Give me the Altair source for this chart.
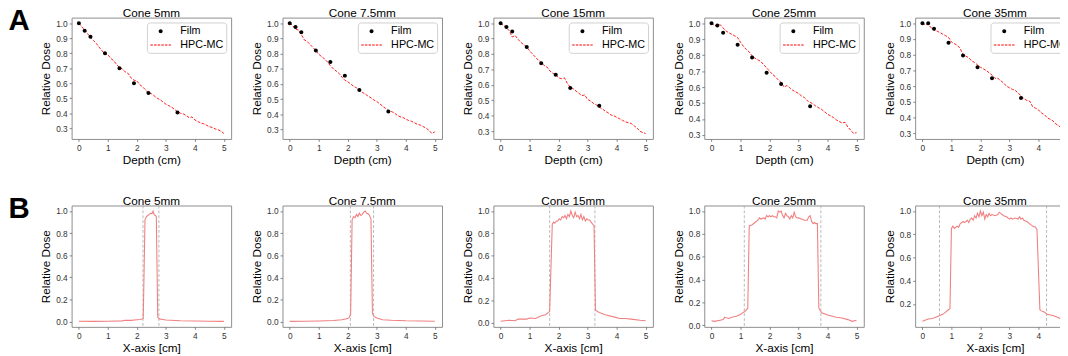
import altair as alt
import pandas as pd

FONT = "Liberation Sans"

cones = ["Cone 5mm", "Cone 7.5mm", "Cone 15mm", "Cone 25mm", "Cone 35mm"]
series = ["Film", "HPC-MC"]

# ---- Row A: depth dose ----
depth = [0.0, 0.1, 0.2, 0.3, 0.4, 0.5, 0.6, 0.7, 0.8, 0.9,
         1.0, 1.1, 1.2, 1.3, 1.4, 1.5, 1.6, 1.7, 1.8, 1.9,
         2.0, 2.1, 2.2, 2.3, 2.4, 2.5, 2.6, 2.7, 2.8, 2.9,
         3.0, 3.1, 3.2, 3.3, 3.4, 3.5, 3.6, 3.7, 3.8, 3.9,
         4.0, 4.1, 4.2, 4.3, 4.4, 4.5, 4.6, 4.7, 4.8, 4.9, 5.0]

mc_5 = [1.00, 0.975, 0.955, 0.93, 0.905, 0.885, 0.865, 0.84, 0.815, 0.795,
        0.79, 0.765, 0.75, 0.725, 0.705, 0.695, 0.675, 0.665, 0.635, 0.62,
        0.615, 0.59, 0.575, 0.555, 0.535, 0.53, 0.515, 0.50, 0.49, 0.475,
        0.46, 0.45, 0.44, 0.425, 0.41, 0.40, 0.395, 0.385, 0.37, 0.375,
        0.355, 0.345, 0.335, 0.33, 0.32, 0.31, 0.305, 0.295, 0.29, 0.28, 0.265]
mc_75 = [1.00, 0.985, 0.96, 0.955, 0.925, 0.89, 0.88, 0.86, 0.84, 0.82,
         0.795, 0.78, 0.765, 0.745, 0.72, 0.70, 0.685, 0.67, 0.645, 0.625,
         0.615, 0.60, 0.585, 0.575, 0.56, 0.545, 0.535, 0.52, 0.51, 0.495,
         0.485, 0.47, 0.455, 0.44, 0.425, 0.42, 0.41, 0.395, 0.385, 0.38,
         0.37, 0.36, 0.355, 0.345, 0.335, 0.33, 0.32, 0.31, 0.295, 0.275, 0.285]
mc_15 = [1.00, 0.985, 0.97, 0.95, 0.91, 0.92, 0.895, 0.875, 0.86, 0.845,
         0.82, 0.80, 0.78, 0.76, 0.745, 0.725, 0.715, 0.69, 0.675, 0.665,
         0.645, 0.64, 0.645, 0.61, 0.585, 0.575, 0.56, 0.545, 0.53, 0.535,
         0.505, 0.495, 0.48, 0.47, 0.455, 0.445, 0.43, 0.42, 0.405, 0.40,
         0.39, 0.38, 0.37, 0.36, 0.355, 0.35, 0.335, 0.32, 0.30, 0.29, 0.285]
mc_25 = [1.00, 0.985, 0.985, 0.99, 0.97, 0.95, 0.94, 0.93, 0.92, 0.91,
         0.88, 0.855, 0.835, 0.82, 0.795, 0.78, 0.77, 0.76, 0.74, 0.72,
         0.70, 0.68, 0.665, 0.645, 0.63, 0.60, 0.61, 0.595, 0.58, 0.57,
         0.56, 0.545, 0.535, 0.515, 0.505, 0.495, 0.48, 0.47, 0.46, 0.445,
         0.43, 0.42, 0.41, 0.395, 0.385, 0.375, 0.38, 0.35, 0.33, 0.31, 0.315]
mc_35 = [1.00, 0.99, 0.995, 0.97, 0.955, 0.95, 0.94, 0.93, 0.92, 0.91,
         0.88, 0.87, 0.86, 0.84, 0.80, 0.79, 0.78, 0.76, 0.75, 0.735,
         0.72, 0.71, 0.70, 0.685, 0.67, 0.65, 0.65, 0.635, 0.62, 0.60,
         0.59, 0.58, 0.575, 0.555, 0.54, 0.52, 0.51, 0.505, 0.47, 0.46,
         0.45, 0.43, 0.42, 0.40, 0.39, 0.38, 0.36, 0.35, 0.33, 0.31, 0.30]

film_depth = [0.0, 0.2, 0.4, 0.9, 1.4, 1.9, 2.4, 3.4]
film_5 = [1.0, 0.95, 0.91, 0.80, 0.70, 0.60, 0.535, 0.405]
film_75 = [1.0, 0.975, 0.94, 0.82, 0.745, 0.655, 0.56, 0.42]
film_15 = [1.0, 0.975, 0.945, 0.845, 0.74, 0.665, 0.58, 0.465]
film_25 = [1.0, 0.985, 0.94, 0.865, 0.785, 0.69, 0.62, 0.48]
film_35 = [1.0, 1.0, 0.965, 0.875, 0.795, 0.72, 0.65, 0.525]

# ---- Row B: lateral profiles ----
px_5 = [0.0, 0.5, 1.0, 1.5, 1.6, 1.8, 2.0, 2.1, 2.18, 2.22,
        2.28, 2.33, 2.38, 2.43, 2.48, 2.52, 2.56, 2.6, 2.64, 2.67,
        2.72, 2.78, 2.9, 3.0, 3.5, 4.0, 4.5, 5.0]
py_5 = [0.004, 0.003, 0.004, 0.007, 0.012, 0.012, 0.018, 0.02, 0.025, 0.03,
        0.92, 0.95, 0.96, 0.97, 0.98, 0.975, 1.0, 0.965, 0.96, 0.95,
        0.04, 0.025, 0.02, 0.015, 0.008, 0.006, 0.004, 0.003]
px_75 = [0.0, 0.5, 1.0, 1.5, 1.8, 2.0, 2.05, 2.1, 2.15, 2.2,
         2.25, 2.3, 2.35, 2.4, 2.45, 2.5, 2.55, 2.6, 2.65, 2.7,
         2.75, 2.8, 2.85, 2.9, 3.0, 3.2, 3.5, 4.0, 4.5, 5.0]
py_75 = [0.005, 0.006, 0.008, 0.012, 0.02, 0.03, 0.04, 0.07, 0.92, 0.95,
         0.94, 0.97, 0.95, 0.98, 0.96, 0.97, 0.99, 1.0, 0.98, 0.975,
         0.96, 0.93, 0.08, 0.05, 0.035, 0.02, 0.015, 0.01, 0.008, 0.006]
px_15 = [0.0, 0.3, 0.5, 0.6, 0.9, 1.0, 1.2, 1.4, 1.55, 1.69,
         1.78, 1.82, 1.87, 1.92, 1.97, 2.02, 2.07, 2.12, 2.17, 2.22,
         2.27, 2.32, 2.37, 2.42, 2.47, 2.52, 2.57, 2.62, 2.67, 2.72,
         2.77, 2.82, 2.87, 2.92, 2.97, 3.02, 3.07, 3.12, 3.18, 3.22,
         3.27, 3.4, 3.6, 3.9, 4.1, 4.3, 4.5, 4.8, 5.0]
py_15 = [0.01, 0.02, 0.015, 0.03, 0.03, 0.04, 0.035, 0.06, 0.07, 0.10,
         0.88, 0.90, 0.89, 0.91, 0.91, 0.93, 0.92, 0.95, 0.94, 0.96,
         0.93, 0.97, 0.95, 1.0, 0.96, 0.94, 0.99, 0.95, 0.96, 0.93,
         0.97, 0.92, 0.95, 0.91, 0.93, 0.92, 0.92, 0.90, 0.88, 0.87,
         0.11, 0.09, 0.07, 0.05, 0.035, 0.035, 0.03, 0.02, 0.015]
px_25 = [0.0, 0.1, 0.3, 0.4, 0.45, 0.6, 0.7, 0.85, 1.0, 1.1,
         1.15, 1.25, 1.3, 1.4, 1.5, 1.6, 1.65, 1.7, 1.8, 1.85,
         1.9, 1.95, 2.0, 2.05, 2.1, 2.15, 2.2, 2.25, 2.3, 2.35,
         2.4, 2.45, 2.5, 2.55, 2.6, 2.65, 2.7, 2.75, 2.8, 2.85,
         2.9, 2.95, 3.0, 3.1, 3.2, 3.3, 3.35, 3.4, 3.45, 3.5,
         3.55, 3.6, 3.65, 3.7, 3.8, 4.0, 4.3, 4.5, 4.7, 4.85, 5.0]
py_25 = [0.04, 0.035, 0.045, 0.05, 0.07, 0.06, 0.07, 0.08, 0.095, 0.115,
         0.12, 0.15, 0.87, 0.88, 0.90, 0.92, 0.94, 0.93, 0.94, 0.93,
         0.96, 0.95, 0.96, 0.95, 0.96, 0.95, 0.95, 0.94, 1.0, 0.99,
         1.0, 0.96, 0.94, 0.98, 0.96, 0.95, 0.93, 0.96, 0.94, 0.99,
         0.95, 0.94, 0.94, 0.93, 0.92, 0.92, 0.95, 0.96, 0.91, 0.89,
         0.90, 0.89, 0.89, 0.15, 0.11, 0.09, 0.07, 0.065, 0.05, 0.035, 0.045]
px_35 = [0.0, 0.2, 0.35, 0.5, 0.6, 0.7, 0.8, 0.9, 0.95, 1.0,
         1.05, 1.1, 1.15, 1.2, 1.25, 1.3, 1.4, 1.45, 1.5, 1.55,
         1.6, 1.65, 1.7, 1.75, 1.8, 1.85, 1.9, 1.95, 2.0, 2.05,
         2.1, 2.15, 2.2, 2.25, 2.3, 2.35, 2.4, 2.5, 2.6, 2.65,
         2.7, 2.75, 2.8, 2.9, 3.0, 3.05, 3.1, 3.2, 3.3, 3.35,
         3.4, 3.45, 3.5, 3.6, 3.7, 3.8, 3.9, 3.95, 4.05, 4.1,
         4.2, 4.3, 4.5, 4.7, 4.85, 5.0]
py_35 = [0.05, 0.07, 0.075, 0.09, 0.10, 0.11, 0.13, 0.15, 0.16, 0.85,
         0.87, 0.85, 0.86, 0.87, 0.86, 0.89, 0.91, 0.90, 0.91, 0.92,
         0.90, 0.93, 0.94, 0.92, 0.96, 0.94, 0.98, 0.95, 1.0, 0.96,
         0.99, 0.93, 0.97, 0.95, 0.98, 0.96, 0.97, 0.96, 0.97, 0.99,
         0.98, 0.97, 0.96, 0.95, 0.93, 0.94, 0.93, 0.94, 0.93, 0.95,
         0.93, 0.94, 0.92, 0.91, 0.89, 0.87, 0.86, 0.84, 0.15, 0.14,
         0.13, 0.11, 0.10, 0.08, 0.06, 0.05]

edges_5 = [2.21, 2.76]
edges_75 = [2.09, 2.89]
edges_15 = [1.69, 3.25]
edges_25 = [1.13, 3.77]
edges_35 = [0.59, 4.28]

x_ticks = [0, 1, 2, 3, 4, 5]
ya_ticks = [0.3, 0.4, 0.5, 0.6, 0.7, 0.8, 0.9, 1.0]
yb_ticks = [0.0, 0.2, 0.4, 0.6, 0.8, 1.0]

W, H = 163, 124
XDOM = [-0.25, 5.25]

# marker glyphs in symbol units (legend symbol size 144 -> 1 unit = 6 px)
SYM_SIZE = 144
CIRCLE_PATH = "M0.34,0A0.34,0.34,0,1,1,-0.34,0A0.34,0.34,0,1,1,0.34,0Z"


def dash_path(x0=-1.75, x1=1.75, dash=0.42, gap=0.2, hh=0.085):
    parts = []
    x = x0
    while x < x1 - 1e-9:
        e = min(x + dash, x1)
        parts.append(f"M{x:.3f},{-hh}H{e:.3f}V{hh}H{x:.3f}Z")
        x = e + gap
    return "".join(parts)


DASH_PATH = dash_path()


def pad_domain(vals):
    lo, hi = min(vals), max(vals)
    r = hi - lo
    return [lo - 0.05 * r, hi + 0.05 * r]


def panel_title(t):
    return alt.TitleParams(t, fontSize=12, font=FONT, fontWeight="normal",
                           color="black", offset=-2.5)


def legend():
    return alt.Legend(
        title=None, orient="top-right", offset=5, padding=3,
        fillColor="white", strokeColor="#d0d0d0", cornerRadius=3,
        labelFont=FONT, labelFontSize=11, labelColor="black",
        symbolSize=SYM_SIZE, symbolOffset=5, labelOffset=14, rowPadding=3,
        symbolStrokeWidth=0,
    )


def panel_a(title, mc, film):
    df_mc = pd.DataFrame({"d": depth, "v": mc})
    df_f = pd.DataFrame({"d": film_depth, "v": film, "s": series[0]})
    ydom = pad_domain(mc + film)
    x = alt.X("d:Q", scale=alt.Scale(domain=XDOM, nice=False, zero=False),
              axis=alt.Axis(values=x_ticks, format="d", title="Depth (cm)"))
    y = alt.Y("v:Q", scale=alt.Scale(domain=ydom, nice=False, zero=False),
              axis=alt.Axis(values=[t for t in ya_ticks if ydom[0] <= t <= ydom[1]],
                            format=".1f", title="Relative Dose"))
    color = alt.Color("s:N", scale=alt.Scale(domain=series, range=["black", "red"]),
                      legend=legend())
    shape = alt.Shape("s:N", scale=alt.Scale(domain=series, range=[CIRCLE_PATH, DASH_PATH]),
                      legend=legend())
    line = alt.Chart(df_mc).mark_line(color="red", strokeWidth=0.9,
                                      strokeDash=[3, 1.5]).encode(x=x, y=y)
    pts = alt.Chart(df_f).mark_point(filled=True, size=SYM_SIZE, opacity=1,
                                     strokeWidth=0).encode(x=x, y=y, color=color, shape=shape)
    return alt.layer(line, pts).properties(width=W, height=H, title=panel_title(title))


def panel_b(title, px, py, edges):
    df = pd.DataFrame({"x": px, "v": py})
    dfr = pd.DataFrame({"x": edges})
    ydom = pad_domain(py)
    x = alt.X("x:Q", scale=alt.Scale(domain=XDOM, nice=False, zero=False),
              axis=alt.Axis(values=x_ticks, format="d", title="X-axis [cm]"))
    y = alt.Y("v:Q", scale=alt.Scale(domain=ydom, nice=False, zero=False),
              axis=alt.Axis(values=[t for t in yb_ticks if ydom[0] <= t <= ydom[1]],
                            format=".1f", title="Relative Dose"))
    rules = alt.Chart(dfr).mark_rule(color="#b0b0b0", strokeDash=[3, 2],
                                     strokeWidth=0.9).encode(x=x)
    line = alt.Chart(df).mark_line(color="#f08080", strokeWidth=1.1).encode(x=x, y=y)
    return alt.layer(rules, line).properties(width=W, height=H, title=panel_title(title))


mcs = [mc_5, mc_75, mc_15, mc_25, mc_35]
films = [film_5, film_75, film_15, film_25, film_35]
pxs = [px_5, px_75, px_15, px_25, px_35]
pys = [py_5, py_75, py_15, py_25, py_35]
edges = [edges_5, edges_75, edges_15, edges_25, edges_35]


def row_title(t):
    return alt.TitleParams(t, orient="left", anchor="end", angle=0, align="left",
                           baseline="top", fontSize=30, font=FONT, fontWeight="bold",
                           color="black", offset=10)


row_a = alt.hconcat(*[panel_a(c, m, f) for c, m, f in zip(cones, mcs, films)],
                    spacing=18.5).resolve_scale(
    x="independent", y="independent", color="independent", shape="independent"
).resolve_legend(color="independent", shape="independent").properties(title=row_title("A"))

row_b = alt.hconcat(*[panel_b(c, a, b, e) for c, a, b, e in zip(cones, pxs, pys, edges)],
                    spacing=18.5).resolve_scale(
    x="independent", y="independent").properties(title=row_title("B"))

chart = alt.vconcat(row_a, row_b, spacing=28).properties(
    padding={"left": 0, "top": -5, "right": -16, "bottom": 0}
).configure_view(
    stroke="#8c8c8c", strokeWidth=1
).configure_axis(
    grid=False, domain=False, labelFont=FONT, labelFontSize=8.5, labelColor="#333333",
    tickColor="#666666", tickSize=2.5, tickWidth=0.8, labelPadding=2,
    titleFont=FONT, titleFontSize=12, titleFontWeight="normal", titleColor="black",
    titlePadding=3,
).configure_legend(
    labelFont=FONT, labelFontSize=11, labelColor="black",
)

chart.save("out.html", embed_options={"renderer": "svg", "actions": False})
